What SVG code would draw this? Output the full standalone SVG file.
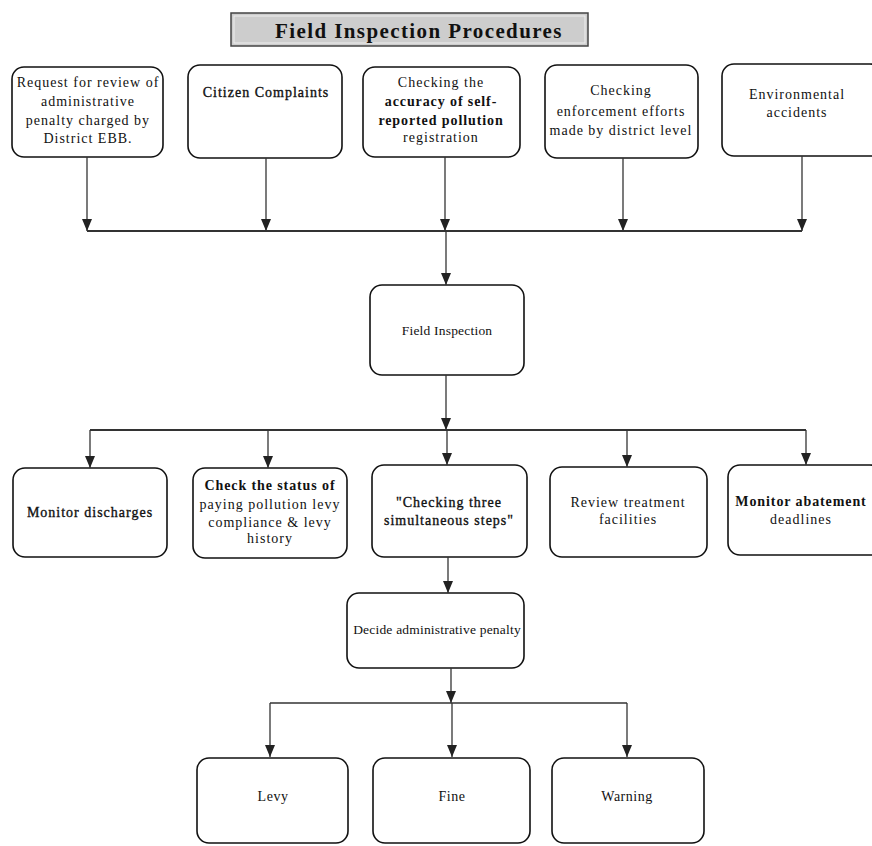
<svg xmlns="http://www.w3.org/2000/svg" width="872" height="846" viewBox="0 0 872 846">
<style>
.box{fill:#fff;stroke:#111;stroke-width:1.6}
.t{font-family:"Liberation Serif","Times New Roman",serif;font-size:14px;letter-spacing:1px;fill:#111;text-anchor:middle}
.b{font-weight:bold;letter-spacing:0.9px}
.m{stroke:#111;stroke-width:0.35}
.s{font-size:13.5px;letter-spacing:0.2px}
.c{fill:none;stroke:#333;stroke-width:1.3}
</style>
<defs>
<marker id="a" markerUnits="userSpaceOnUse" markerWidth="12" markerHeight="10" viewBox="0 0 12 10" refX="12" refY="5" orient="auto">
<path d="M0,0 L12,5 L0,10 Z" fill="#222"/>
</marker>
</defs>

<g id="title">
<rect x="231" y="13" width="357" height="33" fill="#cdcdcd" stroke="#444" stroke-width="1.5"/>
<rect x="234" y="16" width="351" height="27" fill="none" stroke="#eee" stroke-width="1"/>
<text x="419" y="38" class="t b" style="font-size:21px;letter-spacing:1.4px">Field Inspection Procedures</text>
</g>

<g id="n1"><rect class="box" x="12" y="67" width="151" height="90" rx="12"/>
<text class="t" x="88" y="87">Request for review of</text>
<text class="t" x="88" y="106">administrative</text>
<text class="t" x="88" y="125">penalty charged by</text>
<text class="t" x="88" y="143">District EBB.</text></g>

<g id="n2"><rect class="box" x="188" y="65" width="154" height="93" rx="12"/>
<text class="t m" x="266" y="97">Citizen Complaints</text></g>

<g id="n3"><rect class="box" x="363" y="67" width="157" height="90" rx="12"/>
<text class="t" x="441" y="87">Checking the</text>
<text class="t b" x="441" y="106">accuracy of self-</text>
<text class="t b" x="441" y="125">reported pollution</text>
<text class="t" x="441" y="142">registration</text></g>

<g id="n4"><rect class="box" x="545" y="65" width="153" height="93" rx="12"/>
<text class="t" x="621" y="95">Checking</text>
<text class="t" x="621" y="116">enforcement efforts</text>
<text class="t" x="621" y="135">made by district level</text></g>

<g id="n5"><rect class="box" x="722" y="64" width="160" height="92" rx="12"/>
<text class="t" x="797" y="99">Environmental</text>
<text class="t" x="797" y="117">accidents</text></g>

<g id="n6"><rect class="box" x="370" y="285" width="154" height="90" rx="12"/>
<text class="t s" x="447" y="335">Field Inspection</text></g>

<g id="n7"><rect class="box" x="13" y="468" width="154" height="89" rx="12"/>
<text class="t m" x="90" y="517">Monitor discharges</text></g>

<g id="n8"><rect class="box" x="193" y="468" width="154" height="90" rx="12"/>
<text class="t b" x="270" y="490">Check the status of</text>
<text class="t" x="270" y="509">paying pollution levy</text>
<text class="t" x="270" y="527">compliance &amp; levy</text>
<text class="t" x="270" y="543">history</text></g>

<g id="n9"><rect class="box" x="372" y="465" width="155" height="92" rx="12"/>
<text class="t m" x="449" y="507">"Checking three</text>
<text class="t m" x="449" y="525">simultaneous steps"</text></g>

<g id="n10"><rect class="box" x="550" y="467" width="157" height="90" rx="12"/>
<text class="t" x="628" y="507">Review treatment</text>
<text class="t" x="628" y="524">facilities</text></g>

<g id="n11"><rect class="box" x="728" y="465" width="154" height="90" rx="12"/>
<text class="t b" x="801" y="506">Monitor abatement</text>
<text class="t" x="801" y="524">deadlines</text></g>

<g id="n12"><rect class="box" x="347" y="593" width="177" height="75" rx="12"/>
<text class="t s" x="437" y="634">Decide administrative penalty</text></g>

<g id="n13"><rect class="box" x="197" y="758" width="151" height="85" rx="12"/>
<text class="t" x="273" y="801" style="font-size:14px;letter-spacing:0.5px">Levy</text></g>

<g id="n14"><rect class="box" x="373" y="758" width="157" height="85" rx="12"/>
<text class="t" x="452" y="801" style="font-size:14px;letter-spacing:0.5px">Fine</text></g>

<g id="n15"><rect class="box" x="552" y="758" width="152" height="85" rx="12"/>
<text class="t" x="627" y="801" style="font-size:14px;letter-spacing:0.5px">Warning</text></g>

<g id="connectors">
<path class="c" d="M87,157 V231" marker-end="url(#a)"/>
<path class="c" d="M266,158 V231" marker-end="url(#a)"/>
<path class="c" d="M445,157 V231" marker-end="url(#a)"/>
<path class="c" d="M623,158 V231" marker-end="url(#a)"/>
<path class="c" d="M802,156 V231" marker-end="url(#a)"/>
<path class="c" d="M87,231 H802" style="stroke-width:1.8"/>
<path class="c" d="M446,231 V285" marker-end="url(#a)"/>
<path class="c" d="M446,375 V430" marker-end="url(#a)"/>
<path class="c" d="M90,430 H806" style="stroke-width:1.8"/>
<path class="c" d="M90,430 V468" marker-end="url(#a)"/>
<path class="c" d="M268,430 V468" marker-end="url(#a)"/>
<path class="c" d="M447,430 V465" marker-end="url(#a)"/>
<path class="c" d="M627,430 V467" marker-end="url(#a)"/>
<path class="c" d="M806,430 V465" marker-end="url(#a)"/>
<path class="c" d="M448,557 V593" marker-end="url(#a)"/>
<path class="c" d="M451,668 V703" marker-end="url(#a)"/>
<path class="c" d="M270,703 H627" style="stroke-width:1.6"/>
<path class="c" d="M270,703 V757" marker-end="url(#a)"/>
<path class="c" d="M452,703 V757" marker-end="url(#a)"/>
<path class="c" d="M627,703 V757" marker-end="url(#a)"/>
</g>
</svg>
